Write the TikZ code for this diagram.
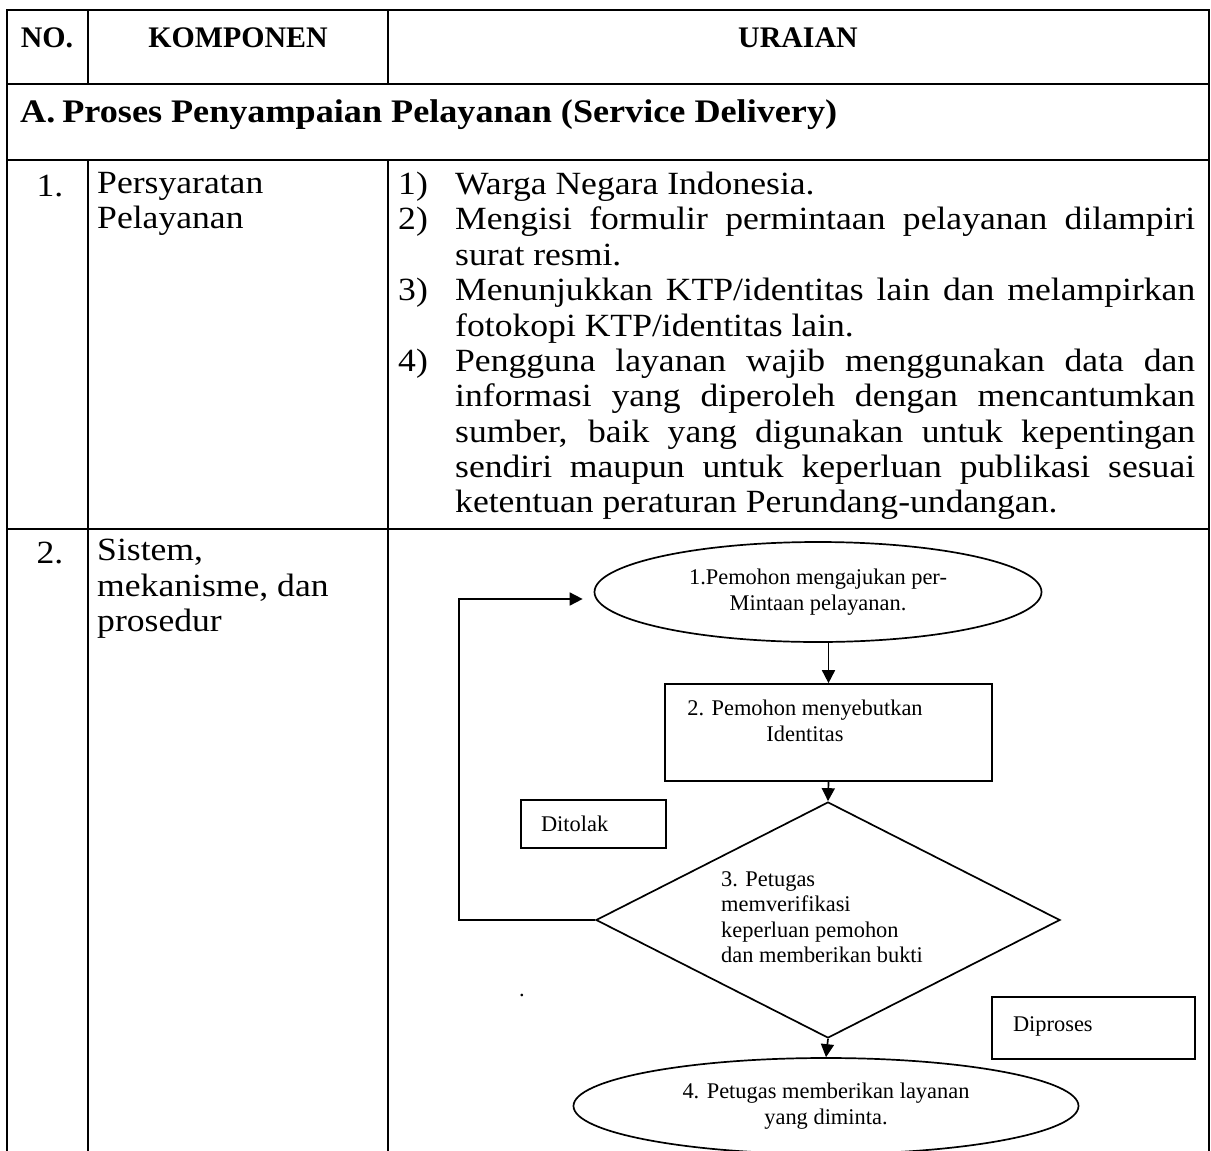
\documentclass[tikz,border=0pt]{standalone}
\usepackage{fontspec}
\setmainfont{Liberation Serif}
\newfontfamily\widefont[FakeStretch=1.1]{Liberation Serif}
\usepackage{tikz}
\usetikzlibrary{arrows.meta,shapes.geometric,calc}

\newcommand{\uritem}[2]{\makebox[57bp][l]{#1}#2}
\newcommand{\urline}[1]{\makebox[740bp][s]{#1}}

\begin{document}
\begin{tikzpicture}[
      x=1bp, y=-1bp,
      grid/.style={line width=2.8bp},
      body/.style={inner sep=0pt, align=left, font=\widefont\fontsize{32.5}{35.5}\selectfont},
      head/.style={inner sep=0pt, font=\fontsize{30}{36}\selectfont\bfseries},
      flow/.style={line width=1.7bp},
      ftxt/.style={inner sep=0pt, align=center, font=\fontsize{22.5}{25.5}\selectfont},
      box/.style={draw, flow, rectangle, inner sep=0pt, font=\fontsize{22.5}{25.5}\selectfont},
      oval/.style={draw, flow, ellipse, inner sep=0pt, align=center, font=\fontsize{22.5}{25.5}\selectfont},
      >={Triangle[length=13bp,width=13bp]}
    ]
    \useasboundingbox (0,0) rectangle (1211,1151);

    % table rules
    \draw[grid] (7,1151) -- (7,10) -- (1209,10) -- (1209,1151);
    \draw[grid] (7,84) -- (1209,84);
    \draw[grid] (7,160) -- (1209,160);
    \draw[grid] (7,529) -- (1209,529);
    \draw[grid] (88,10) -- (88,84);
    \draw[grid] (388,10) -- (388,84);
    \draw[grid] (88,160) -- (88,1151);
    \draw[grid] (388,160) -- (388,1151);

    % header and section
    \node[head] (hno) at (47,38) {NO.};
    \node[head] (hkomp) at (238,38) {KOMPONEN};
    \node[head] (hur) at (798,38) {URAIAN};
    \node[head, font=\widefont\fontsize{33}{36}\selectfont\bfseries, anchor=west] (secA) at (20,115) {A.\hspace{7bp}Proses Penyampaian Pelayanan (Service Delivery)};

    % row 1
    \node[body] (no1) at (50,186) {1.};
    \node[body, anchor=west] (komp1) at (97,204) {Persyaratan\\Pelayanan};
    \node[body, anchor=west] (ur1) at (398,346) {%
      \uritem{1)}{Warga Negara Indonesia.}\\
      \uritem{2)}{\urline{Mengisi formulir permintaan pelayanan dilampiri}}\\
      \hspace*{57bp}surat resmi.\\
      \uritem{3)}{\urline{Menunjukkan KTP/identitas lain dan melampirkan}}\\
      \hspace*{57bp}fotokopi KTP/identitas lain.\\
      \uritem{4)}{\urline{Pengguna layanan wajib menggunakan data dan}}\\
      \hspace*{57bp}\urline{informasi yang diperoleh dengan mencantumkan}\\
      \hspace*{57bp}\urline{sumber, baik yang digunakan untuk kepentingan}\\
      \hspace*{57bp}\urline{sendiri maupun untuk keperluan publikasi sesuai}\\
      \hspace*{57bp}ketentuan peraturan Perundang-undangan.};

    % row 2
    \node[body] (no2) at (50,553) {2.};
    \node[body, anchor=west] (komp2) at (97,589) {Sistem,\\mekanisme, dan\\prosedur};

    % flowchart
    \node[oval, minimum width=447bp, minimum height=100bp] (e1) at (818,592) {1.Pemohon mengajukan per-\\Mintaan pelayanan.};
    \node[box, minimum width=327bp, minimum height=97bp] (s2) at (828.5,732.5) {};
    \node[ftxt] (s2txt) at (805,721) {2. Pemohon menyebutkan\\Identitas};
    \node[box, minimum width=145bp, minimum height=48bp, inner xsep=20bp, text width=105bp, align=left] (tolak) at (593.5,824) {Ditolak};
    \node[draw, flow, diamond, minimum width=464bp, minimum height=236bp, inner sep=0pt] (d3) at (828,920) {};
    \node[ftxt, align=left, anchor=west] (d3txt) at (721,917) {3. Petugas\\memverifikasi\\keperluan pemohon\\dan memberikan bukti};
    \node[ftxt] (dot) at (522,995) {.};
    \node[box, minimum width=203bp, minimum height=62bp, inner xsep=21bp, text width=161bp, align=left] (proses) at (1093.5,1028) {\raisebox{8bp}{Diproses}};
    \node[oval, minimum width=505bp, minimum height=96bp] (e4) at (826,1106) {4. Petugas memberikan layanan\\yang diminta.};
    \coordinate (lp) at (459,599);

    \draw[flow,->] (s2.north |- e1.south) -- (s2.north);
    \draw[flow,->] (s2.south) -- (d3.north);
    \draw[flow,->] (d3.south) -- (e4.north);
    \draw[flow,->,shorten >=11bp] (d3.west) -| (lp) -- (e1.west |- lp);
  \end{tikzpicture}
\end{document}
